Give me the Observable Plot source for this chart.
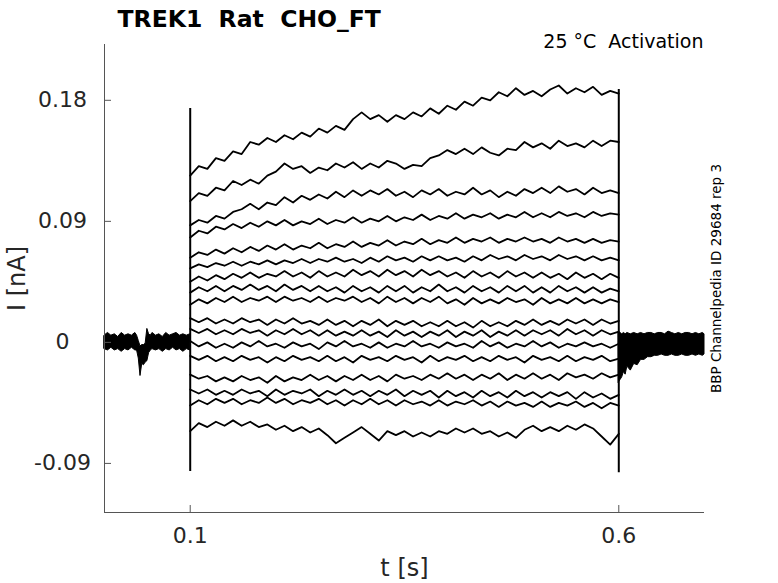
<!DOCTYPE html>
<html><head><meta charset="utf-8">
<script src="https://cdn.jsdelivr.net/npm/d3@7"></script>
<script src="https://cdn.jsdelivr.net/npm/@observablehq/plot@0.6"></script>
<style>body{margin:0;background:#fff}#chart svg{display:block}</style>
</head><body><div id="chart"></div>
<script>
const title = "TREK1  Rat  CHO_FT";
const condition = "25 °C  Activation";
const sideNote = "BBP Channelpedia ID 29684 rep 3";
const xLabel = "t [s]";
const yLabel = "I [nA]";
const xTicks = [0.1, 0.6];
const yTicks = [-0.09, 0, 0.09, 0.18];

// sample times during the voltage step (s)
const tPulse = [0.10,0.11,0.12,0.13,0.14,0.15,0.16,0.17,0.18,0.19,0.20,0.21,0.22,0.23,0.24,0.25,0.26,0.27,0.28,0.29,0.30,0.31,0.32,0.33,0.34,0.35,0.36,0.37,0.38,0.39,0.40,0.41,0.42,0.43,0.44,0.45,0.46,0.47,0.48,0.49,0.50,0.51,0.52,0.53,0.54,0.55,0.56,0.57,0.58,0.59,0.60];

// current traces (nA), one per voltage step
const trace01 = [0.124,0.131,0.129,0.137,0.135,0.142,0.140,0.149,0.147,0.152,0.149,0.154,0.151,0.156,0.153,0.159,0.156,0.161,0.158,0.166,0.171,0.166,0.169,0.164,0.169,0.166,0.171,0.168,0.174,0.170,0.176,0.173,0.179,0.176,0.182,0.180,0.186,0.183,0.189,0.184,0.187,0.183,0.188,0.191,0.185,0.189,0.186,0.190,0.184,0.187,0.185];
const trace02 = [0.105,0.111,0.109,0.115,0.113,0.120,0.117,0.121,0.118,0.124,0.127,0.133,0.129,0.131,0.126,0.130,0.128,0.133,0.130,0.134,0.129,0.133,0.130,0.135,0.133,0.129,0.132,0.131,0.137,0.139,0.143,0.140,0.144,0.140,0.145,0.141,0.139,0.144,0.143,0.149,0.145,0.148,0.144,0.150,0.146,0.148,0.145,0.150,0.146,0.150,0.149];
const trace03 = [0.087,0.091,0.089,0.094,0.092,0.097,0.099,0.103,0.099,0.104,0.102,0.108,0.104,0.109,0.106,0.110,0.107,0.112,0.108,0.113,0.109,0.113,0.110,0.114,0.109,0.112,0.108,0.113,0.110,0.114,0.109,0.112,0.110,0.115,0.110,0.113,0.108,0.112,0.109,0.114,0.111,0.115,0.111,0.116,0.112,0.114,0.110,0.115,0.111,0.113,0.111];
const trace04 = [0.078,0.083,0.081,0.086,0.084,0.088,0.085,0.089,0.086,0.090,0.087,0.091,0.087,0.090,0.088,0.092,0.088,0.091,0.089,0.093,0.089,0.092,0.090,0.094,0.090,0.093,0.091,0.095,0.091,0.094,0.092,0.096,0.092,0.095,0.093,0.096,0.092,0.095,0.093,0.097,0.093,0.096,0.093,0.097,0.094,0.096,0.093,0.097,0.094,0.096,0.095];
const trace05 = [0.063,0.067,0.065,0.069,0.066,0.070,0.067,0.071,0.068,0.072,0.069,0.073,0.069,0.072,0.070,0.074,0.070,0.073,0.071,0.075,0.071,0.074,0.072,0.076,0.072,0.075,0.073,0.077,0.073,0.076,0.074,0.078,0.074,0.077,0.075,0.078,0.074,0.077,0.075,0.078,0.075,0.077,0.074,0.078,0.075,0.077,0.074,0.077,0.074,0.076,0.075];
const trace06 = [0.055,0.058,0.056,0.059,0.057,0.060,0.057,0.060,0.058,0.061,0.058,0.061,0.059,0.062,0.059,0.062,0.060,0.063,0.060,0.062,0.059,0.063,0.060,0.064,0.061,0.063,0.060,0.064,0.061,0.064,0.061,0.063,0.060,0.064,0.061,0.065,0.062,0.064,0.061,0.065,0.062,0.064,0.061,0.065,0.062,0.064,0.061,0.064,0.061,0.063,0.061];
const trace07 = [0.045,0.049,0.046,0.050,0.047,0.051,0.048,0.052,0.048,0.051,0.049,0.053,0.049,0.052,0.048,0.053,0.049,0.052,0.049,0.054,0.050,0.053,0.049,0.054,0.050,0.053,0.049,0.054,0.050,0.053,0.049,0.052,0.048,0.053,0.049,0.052,0.048,0.053,0.049,0.052,0.048,0.052,0.048,0.051,0.047,0.052,0.048,0.051,0.047,0.051,0.048];
const trace08 = [0.037,0.041,0.038,0.042,0.038,0.042,0.039,0.043,0.039,0.042,0.038,0.043,0.039,0.042,0.038,0.042,0.038,0.041,0.037,0.042,0.038,0.041,0.037,0.042,0.038,0.042,0.037,0.041,0.038,0.043,0.038,0.041,0.037,0.042,0.038,0.041,0.037,0.042,0.038,0.042,0.037,0.041,0.037,0.042,0.038,0.041,0.037,0.041,0.037,0.040,0.038];
const trace09 = [0.028,0.032,0.029,0.033,0.030,0.034,0.030,0.033,0.031,0.034,0.030,0.034,0.031,0.033,0.030,0.034,0.030,0.033,0.031,0.034,0.030,0.033,0.029,0.034,0.030,0.033,0.029,0.033,0.030,0.034,0.029,0.032,0.028,0.033,0.029,0.032,0.029,0.033,0.030,0.032,0.028,0.033,0.029,0.032,0.029,0.033,0.029,0.032,0.029,0.032,0.030];
const trace10 = [0.018,0.015,0.018,0.014,0.017,0.014,0.018,0.015,0.017,0.013,0.017,0.014,0.018,0.014,0.016,0.013,0.017,0.013,0.016,0.012,0.016,0.013,0.017,0.012,0.016,0.013,0.016,0.012,0.015,0.012,0.016,0.012,0.015,0.011,0.016,0.012,0.015,0.012,0.016,0.013,0.017,0.013,0.016,0.013,0.017,0.014,0.017,0.013,0.017,0.014,0.016];
const trace11 = [0.010,0.007,0.010,0.006,0.009,0.006,0.010,0.007,0.009,0.005,0.009,0.006,0.010,0.006,0.009,0.005,0.009,0.005,0.008,0.005,0.009,0.005,0.008,0.004,0.009,0.005,0.008,0.004,0.008,0.005,0.009,0.004,0.008,0.005,0.009,0.004,0.008,0.005,0.009,0.005,0.009,0.006,0.009,0.005,0.010,0.006,0.009,0.005,0.009,0.006,0.008];
const trace12 = [0.001,-0.003,0.000,-0.004,-0.001,-0.004,0.000,-0.003,0.001,-0.003,-0.001,-0.004,0.000,-0.003,-0.001,-0.005,0.000,-0.003,0.001,-0.003,-0.001,-0.004,0.000,-0.004,-0.001,-0.003,0.001,-0.003,-0.001,-0.004,0.000,-0.003,-0.001,-0.004,0.001,-0.003,0.000,-0.004,-0.001,-0.003,0.001,-0.003,0.000,-0.004,-0.001,-0.003,0.000,-0.003,-0.001,-0.004,-0.001];
const trace13 = [-0.010,-0.013,-0.010,-0.014,-0.011,-0.014,-0.010,-0.013,-0.011,-0.015,-0.011,-0.014,-0.010,-0.013,-0.011,-0.014,-0.010,-0.014,-0.011,-0.015,-0.010,-0.013,-0.011,-0.014,-0.010,-0.013,-0.011,-0.015,-0.010,-0.014,-0.011,-0.013,-0.010,-0.014,-0.011,-0.014,-0.010,-0.013,-0.011,-0.015,-0.010,-0.013,-0.011,-0.014,-0.010,-0.014,-0.011,-0.013,-0.010,-0.014,-0.012];
const trace14 = [-0.024,-0.027,-0.025,-0.029,-0.026,-0.029,-0.025,-0.028,-0.026,-0.030,-0.025,-0.029,-0.026,-0.028,-0.024,-0.028,-0.025,-0.029,-0.025,-0.028,-0.024,-0.028,-0.025,-0.029,-0.024,-0.027,-0.025,-0.028,-0.024,-0.027,-0.023,-0.027,-0.024,-0.028,-0.024,-0.027,-0.023,-0.028,-0.024,-0.027,-0.023,-0.027,-0.024,-0.028,-0.023,-0.026,-0.024,-0.027,-0.023,-0.026,-0.024];
const trace15 = [-0.035,-0.038,-0.035,-0.039,-0.036,-0.039,-0.035,-0.038,-0.036,-0.040,-0.035,-0.039,-0.036,-0.038,-0.035,-0.040,-0.036,-0.039,-0.035,-0.039,-0.036,-0.040,-0.036,-0.039,-0.035,-0.040,-0.036,-0.039,-0.036,-0.041,-0.036,-0.040,-0.037,-0.041,-0.036,-0.040,-0.037,-0.041,-0.036,-0.040,-0.037,-0.041,-0.037,-0.040,-0.037,-0.042,-0.037,-0.041,-0.038,-0.042,-0.039];
const trace16 = [-0.047,-0.043,-0.046,-0.042,-0.045,-0.042,-0.046,-0.043,-0.045,-0.041,-0.045,-0.042,-0.046,-0.043,-0.045,-0.042,-0.046,-0.043,-0.047,-0.043,-0.046,-0.042,-0.046,-0.043,-0.047,-0.043,-0.046,-0.044,-0.047,-0.043,-0.047,-0.044,-0.046,-0.043,-0.047,-0.044,-0.048,-0.044,-0.047,-0.045,-0.048,-0.044,-0.048,-0.045,-0.047,-0.044,-0.048,-0.045,-0.049,-0.045,-0.047];
const trace17 = [-0.066,-0.060,-0.063,-0.059,-0.062,-0.058,-0.062,-0.059,-0.063,-0.061,-0.065,-0.062,-0.066,-0.063,-0.067,-0.064,-0.069,-0.075,-0.071,-0.067,-0.063,-0.068,-0.073,-0.066,-0.069,-0.066,-0.070,-0.067,-0.070,-0.066,-0.068,-0.064,-0.067,-0.064,-0.068,-0.066,-0.070,-0.067,-0.071,-0.065,-0.062,-0.066,-0.063,-0.066,-0.062,-0.065,-0.061,-0.064,-0.070,-0.076,-0.068];
const traces = [trace01,trace02,trace03,trace04,trace05,trace06,trace07,trace08,trace09,trace10,trace11,trace12,trace13,trace14,trace15,trace16,trace17];

// holding-current envelope of all overlapping traces before the step
const preT  = [0.000,0.004,0.008,0.012,0.016,0.020,0.024,0.028,0.032,0.036,0.038,0.040,0.042,0.044,0.046,0.048,0.050,0.052,0.054,0.056,0.060,0.064,0.068,0.072,0.076,0.080,0.084,0.088,0.092,0.096,0.100];
const preHi = [0.005,0.007,0.005,0.006,0.004,0.007,0.005,0.006,0.005,0.007,0.005,0.001,-0.003,-0.002,-0.002,-0.001,0.010,0.006,0.005,0.007,0.005,0.006,0.004,0.007,0.005,0.006,0.007,0.005,0.006,0.005,0.006];
const preLo = [-0.005,-0.006,-0.004,-0.006,-0.005,-0.007,-0.005,-0.006,-0.004,-0.006,-0.006,-0.012,-0.025,-0.016,-0.017,-0.015,-0.014,-0.008,-0.006,-0.005,-0.006,-0.005,-0.007,-0.005,-0.006,-0.004,-0.006,-0.005,-0.007,-0.005,-0.006];
// envelope after the step (tail currents)
const postT  = [0.600,0.602,0.604,0.606,0.608,0.610,0.614,0.618,0.622,0.626,0.630,0.634,0.638,0.642,0.646,0.650,0.654,0.658,0.662,0.666,0.670,0.674,0.678,0.682,0.686,0.690,0.694,0.698,0.700];
const postHi = [0.007,0.007,0.006,0.007,0.006,0.007,0.006,0.007,0.006,0.007,0.006,0.007,0.007,0.006,0.007,0.007,0.006,0.008,0.007,0.006,0.007,0.006,0.007,0.007,0.006,0.007,0.006,0.007,0.006];
const postLo = [-0.030,-0.028,-0.026,-0.022,-0.024,-0.018,-0.021,-0.016,-0.017,-0.013,-0.013,-0.011,-0.011,-0.010,-0.010,-0.009,-0.010,-0.010,-0.009,-0.010,-0.010,-0.009,-0.010,-0.010,-0.009,-0.010,-0.009,-0.010,-0.009];

// capacitive transients at step on/off
const transT = [0.1, 0.6];
const transLow = [-0.096, -0.097];
const transHigh = [0.174, 0.188];

const rows = traces.flatMap((tr, i) => tr.map((v, j) => ({trace: i, t: tPulse[j], v})));
const pre = preT.map((t, i) => ({t, lo: preLo[i], hi: preHi[i]}));
const post = postT.map((t, i) => ({t, lo: postLo[i], hi: postHi[i]}));
const trans = transT.map((t, i) => ({t, lo: transLow[i], hi: transHigh[i]}));

const W = 778, H = 583, mL = 104, mR = 74, mT = 44, mB = 71;
const fw = W - mL - mR, fh = H - mT - mB;
const axisColor = "#555", textColor = "#262626";

const chart = Plot.plot({
  width: W, height: H,
  marginLeft: mL, marginRight: mR, marginTop: mT, marginBottom: mB,
  x: {domain: [0, 0.7], axis: null},
  y: {domain: [-0.1265, 0.2215], axis: null},
  style: {fontFamily: "DejaVu Sans", background: "white", color: textColor},
  marks: [
    Plot.areaY(pre, {x: "t", y1: "lo", y2: "hi", fill: "black", stroke: "black", strokeWidth: 1}),
    Plot.areaY(post, {x: "t", y1: "lo", y2: "hi", fill: "black", stroke: "black", strokeWidth: 1}),
    Plot.line(rows, {x: "t", y: "v", z: "trace", stroke: "black", strokeWidth: 1.8}),
    Plot.ruleX(trans, {x: "t", y1: "lo", y2: "hi", stroke: "black", strokeWidth: 2}),
    Plot.ruleX([0], {stroke: axisColor, strokeWidth: 1}),
    Plot.ruleY([-0.1265], {stroke: axisColor, strokeWidth: 1}),
    Plot.tickY(yTicks, {y: d => d, insetRight: fw - 7, stroke: axisColor}),
    Plot.tickX(xTicks, {x: d => d, insetTop: fh - 7, stroke: axisColor}),
    Plot.text(yTicks, {y: d => d, text: d => String(d), frameAnchor: "left", dx: -42, textAnchor: "middle", lineAnchor: "middle", fontSize: 22, fill: textColor}),
    Plot.text(xTicks, {x: d => d, text: d => String(d), frameAnchor: "bottom", dy: 23, textAnchor: "middle", lineAnchor: "middle", fontSize: 22, fill: textColor}),
    Plot.text([xLabel], {frameAnchor: "bottom", dy: 56, textAnchor: "middle", lineAnchor: "middle", fontSize: 24, fill: textColor}),
    Plot.text([yLabel], {frameAnchor: "left", dx: -87, rotate: -90, textAnchor: "middle", lineAnchor: "middle", fontSize: 24, fill: textColor}),
    Plot.text([title], {frameAnchor: "top-left", dx: 13, dy: -25, textAnchor: "start", lineAnchor: "middle", fontSize: 23.5, fontWeight: "bold", fill: "black"}),
    Plot.text([condition], {frameAnchor: "top-right", dx: -1, dy: -3, textAnchor: "end", lineAnchor: "middle", fontSize: 19, fill: "black"}),
    Plot.text([sideNote], {frameAnchor: "right", dx: 12, rotate: -90, textAnchor: "middle", lineAnchor: "middle", fontSize: 13.5, fill: "black"})
  ]
});
document.getElementById("chart").appendChild(chart);
</script></body></html>
